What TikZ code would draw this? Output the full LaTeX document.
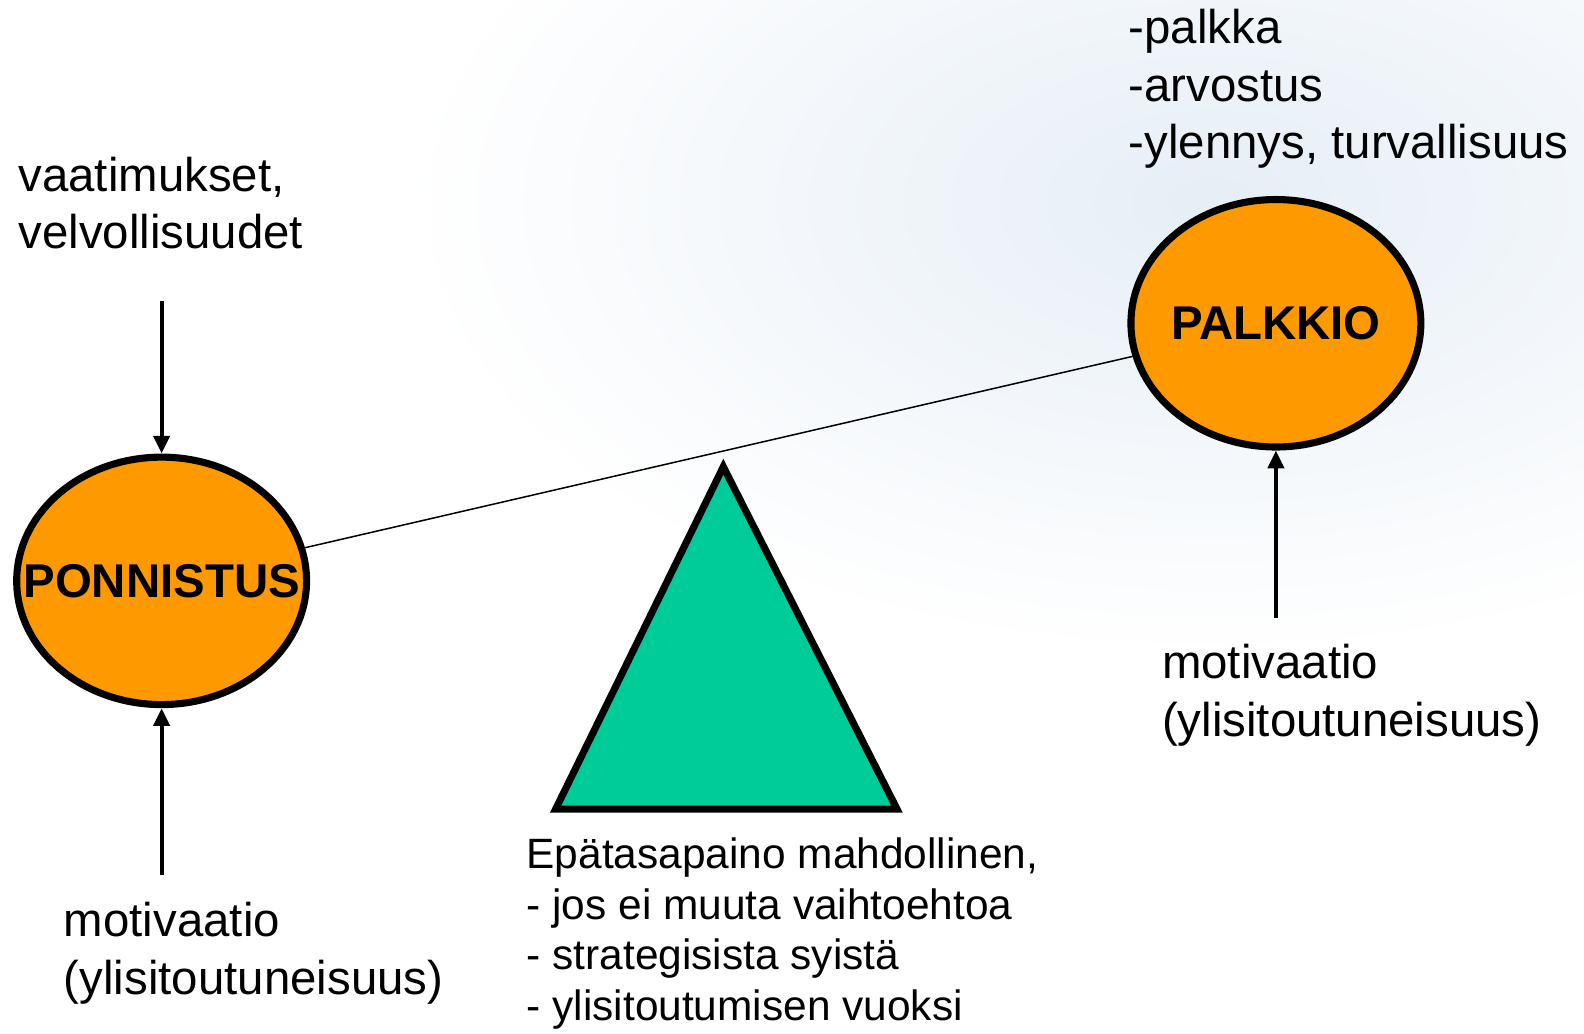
\documentclass[tikz,border=0pt]{standalone}
\usepackage{fontspec}
\setmainfont{Liberation Sans}
\usetikzlibrary{shapes.geometric,arrows.meta}
\definecolor{ballorange}{RGB}{255,153,0}
\definecolor{tripgreen}{RGB}{0,204,153}
\definecolor{cloudblue}{RGB}{230,238,246}
\tikzset{ball/.style={shape=ellipse, draw=black, line width=4pt, fill=ballorange,
  minimum width=5.74cm, minimum height=4.9cm, inner sep=0pt,
  font=\bfseries\fontsize{26.7}{32.4}\selectfont}}
\tikzset{txt/.style={align=left, inner sep=0pt, anchor=base west,
  font=\fontsize{26.7}{32.4}\selectfont}}
\tikzset{push/.style={line width=2.3pt, -{Triangle[length=10pt,width=9pt]}}}

\begin{document}
\begin{tikzpicture}[x=0.02cm, y=-0.02cm]
  \useasboundingbox (0,0) rectangle (1568,1023);
  \shade[inner color=cloudblue, outer color=white] (1200,200) ellipse [x radius=16cm, y radius=9cm];

  \node[ball] (PO) at (160,575) {\makebox[0pt]{PONNISTUS}};
  \node[ball] (PA) at (1263,320) {\makebox[0pt]{PALKKIO}};

  % base = last line
  \node[txt] (V) at (18,246) {vaatimukset,\\velvollisuudet};
  \node[txt] (R) at (1117,157) {-palkka\\-arvostus\\-ylennys, turvallisuus};
  \node[txt] (M1) at (63,984) {motivaatio\\(ylisitoutuneisuus)};
  \node[txt] (M2) at (1150,729) {motivaatio\\(ylisitoutuneisuus)};
  \node[txt, font=\fontsize{23.9}{28.45}\selectfont] (E) at (521,1010)
    {Epätasapaino mahdollinen,\\- jos ei muuta vaihtoehtoa\\- strategisista syistä\\- ylisitoutumisen vuoksi};

  \coordinate (a1) at (160,298);
  \coordinate (a2) at (160,866);
  \coordinate (a3) at (1263,612);

  % the balance
  \draw[line width=0.85pt] (PO) -- (PA);
  \draw[line width=4pt, fill=tripgreen, line join=miter] (716,462) -- (888,801) -- (550,801) -- cycle;

  \draw[push] (a1) -- (PO);
  \draw[push] (a2) -- (PO);
  \draw[push] (a3) -- (PA);
\end{tikzpicture}
\end{document}
